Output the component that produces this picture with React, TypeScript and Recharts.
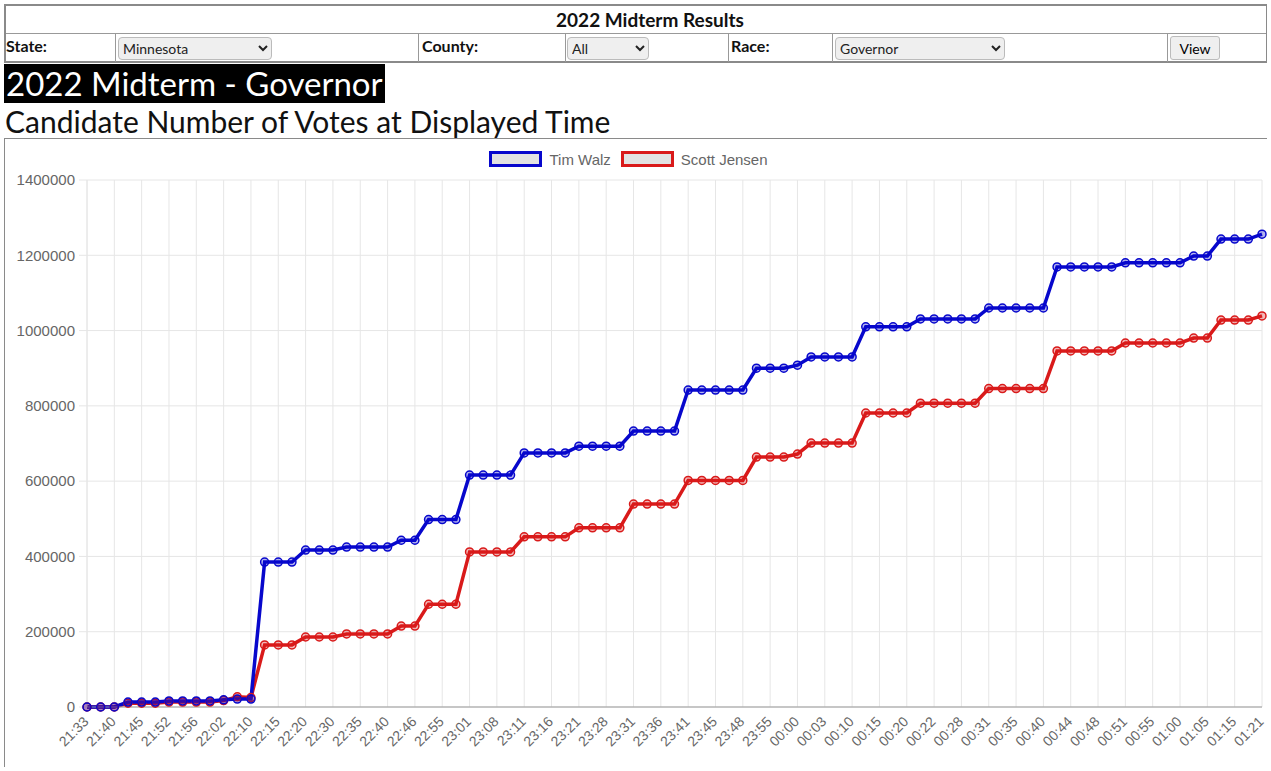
import { CartesianGrid, Legend, Line, LineChart, XAxis, YAxis } from "recharts";

// time of each vote snapshot (only every other one is labelled on the axis)
const times = [
  "21:33", "21:36", "21:40", "21:42", "21:45", "21:49", "21:52", "21:54", "21:56", "21:59",
  "22:02", "22:06", "22:10", "22:12", "22:15", "22:17", "22:20", "22:25", "22:30", "22:33",
  "22:35", "22:38", "22:40", "22:43", "22:46", "22:50", "22:55", "22:58", "23:01", "23:05",
  "23:08", "23:10", "23:11", "23:13", "23:16", "23:18", "23:21", "23:25", "23:28", "23:30",
  "23:31", "23:33", "23:36", "23:38", "23:41", "23:43", "23:45", "23:46", "23:48", "23:51",
  "23:55", "23:58", "00:00", "00:01", "00:03", "00:06", "00:10", "00:12", "00:15", "00:18",
  "00:20", "00:21", "00:22", "00:25", "00:28", "00:30", "00:31", "00:33", "00:35", "00:38",
  "00:40", "00:42", "00:44", "00:46", "00:48", "00:50", "00:51", "00:53", "00:55", "00:58",
  "01:00", "01:03", "01:05", "01:10", "01:15", "01:18", "01:21",
];

const timWalz = [
  0, 0, 0, 13000, 13000, 13000, 16000, 16000, 16000, 16000,
  19000, 21000, 21000, 385000, 385000, 385000, 417000, 417000, 417000, 425000,
  425000, 425000, 425000, 443000, 443000, 498000, 498000, 498000, 616000, 616000,
  616000, 616000, 675000, 675000, 675000, 675000, 693000, 693000, 693000, 693000,
  733000, 733000, 733000, 733000, 842000, 842000, 842000, 842000, 842000, 900000,
  900000, 900000, 908000, 930000, 930000, 930000, 930000, 1010000, 1010000, 1010000,
  1010000, 1031000, 1031000, 1031000, 1031000, 1031000, 1060000, 1060000, 1060000, 1060000,
  1060000, 1169000, 1169000, 1169000, 1169000, 1169000, 1180000, 1180000, 1180000, 1180000,
  1180000, 1198000, 1198000, 1243000, 1243000, 1243000, 1256000,
];

const scottJensen = [
  0, 0, 0, 10000, 10000, 10000, 13000, 13000, 13000, 13000,
  17000, 27000, 25000, 165000, 165000, 165000, 186000, 186000, 186000, 194000,
  194000, 194000, 194000, 215000, 215000, 273000, 273000, 273000, 412000, 412000,
  412000, 412000, 452000, 452000, 452000, 452000, 476000, 476000, 476000, 476000,
  539000, 539000, 539000, 539000, 602000, 602000, 602000, 602000, 602000, 664000,
  664000, 664000, 672000, 701000, 701000, 701000, 701000, 781000, 781000, 781000,
  781000, 807000, 807000, 807000, 807000, 807000, 846000, 846000, 846000, 846000,
  846000, 946000, 946000, 946000, 946000, 946000, 967000, 967000, 967000, 967000,
  967000, 980000, 980000, 1028000, 1028000, 1028000, 1039000,
];

const yTicks = [0, 200000, 400000, 600000, 800000, 1000000, 1200000, 1400000];

const series = [
  { key: "walz", name: "Tim Walz", color: "#0707cc" },
  { key: "jensen", name: "Scott Jensen", color: "#d91a1a" },
];

const data = times.map((t, i) => ({ t, walz: timWalz[i], jensen: scottJensen[i] }));

// only the labelled ticks get a vertical grid line
const labelled = times.filter((_, i) => i % 2 === 0);

const AXIS_FONT = "Arial, 'Liberation Sans', sans-serif";
const HEAD_FONT = "Lato, 'Noto Sans', sans-serif";

function TimeTick({ x, y, payload }: any) {
  const ax = x - 1;
  const ay = y + 12;
  return (
    <text
      x={ax}
      y={ay}
      transform={`rotate(-45 ${ax} ${ay})`}
      textAnchor="end"
      dominantBaseline="central"
      fill="#666"
      fontSize={14}
      fontFamily={AXIS_FONT}
    >
      {payload.value}
    </text>
  );
}

function gridX({ xAxis, offset }: any) {
  if (xAxis && typeof xAxis.scale === "function") {
    return labelled.map((t) => xAxis.scale(t));
  }
  const step = offset.width / (times.length - 1);
  return times.map((_, i) => offset.left + i * step).filter((_, i) => i % 2 === 0);
}

function ChartLegend() {
  return (
    <div
      style={{
        height: 33,
        boxSizing: "border-box",
        paddingTop: 4,
        display: "flex",
        justifyContent: "center",
        fontFamily: AXIS_FONT,
        fontSize: 15,
        color: "#666",
      }}
    >
      {series.map((s) => (
        <div key={s.key} style={{ display: "flex", alignItems: "center", marginRight: 10, height: 16 }}>
          <span
            style={{
              display: "inline-block",
              width: 53,
              height: 16,
              boxSizing: "border-box",
              border: `3px solid ${s.color}`,
              background: "#e2e2e2",
              marginRight: 7,
            }}
          />
          <span>{s.name}</span>
        </div>
      ))}
    </div>
  );
}

const selectStyle = {
  position: "absolute" as const,
  top: 3,
  height: 23,
  fontFamily: HEAD_FONT,
  fontSize: 14,
  background: "#efefef",
  border: "1px solid #bbb",
  borderRadius: 4,
  color: "#222",
};

const labelStyle = {
  position: "absolute" as const,
  top: 2,
  fontFamily: HEAD_FONT,
  fontWeight: 700,
  fontSize: 16,
  color: "#111",
};

export default function App() {
  // column edges of the form row, in page pixels
  const edges = [115, 418, 565, 728, 832, 1167];
  return (
    <div style={{ position: "relative", width: 1264, height: 763 }}>
      <style>{"body{margin:4px;overflow:hidden}"}</style>

      <div
        style={{
          position: "absolute",
          left: 0,
          top: 0,
          width: 1264,
          height: 59,
          boxSizing: "border-box",
          border: "2px solid #8a8a8a",
          background: "#fff",
        }}
      >
        <div
          style={{
            height: 27,
            borderBottom: "1px solid #999",
            textAlign: "center",
            paddingLeft: 28,
            fontFamily: HEAD_FONT,
            fontWeight: 700,
            fontSize: 19,
            lineHeight: "27px",
            color: "#111",
          }}
        >
          2022 Midterm Results
        </div>
        <div style={{ position: "relative", height: 28 }}>
          {edges.map((e) => (
            <div key={e} style={{ position: "absolute", left: e - 6, top: 0, width: 1, height: 28, background: "#999" }} />
          ))}
          <div style={{ ...labelStyle, left: 0 }}>State:</div>
          <select defaultValue="Minnesota" style={{ ...selectStyle, left: 112, width: 154 }}>
            <option>Minnesota</option>
          </select>
          <div style={{ ...labelStyle, left: 416 }}>County:</div>
          <select defaultValue="All" style={{ ...selectStyle, left: 561, width: 82 }}>
            <option>All</option>
          </select>
          <div style={{ ...labelStyle, left: 725 }}>Race:</div>
          <select defaultValue="Governor" style={{ ...selectStyle, left: 829, width: 170 }}>
            <option>Governor</option>
          </select>
          <button
            style={{
              position: "absolute",
              left: 1164,
              top: 2,
              width: 50,
              height: 24,
              fontFamily: HEAD_FONT,
              fontSize: 14,
              background: "#efefef",
              border: "1px solid #bbb",
              borderRadius: 3,
              padding: 0,
            }}
          >
            View
          </button>
        </div>
      </div>

      <div
        style={{
          position: "absolute",
          left: 0,
          top: 60,
          width: 381,
          height: 39,
          background: "#000",
          color: "#fff",
          fontFamily: HEAD_FONT,
          fontSize: 33,
          lineHeight: "39px",
          paddingLeft: 2,
          boxSizing: "border-box",
          whiteSpace: "nowrap",
        }}
      >
        2022 Midterm - Governor
      </div>

      <div
        style={{
          position: "absolute",
          left: 1,
          top: 100,
          fontFamily: HEAD_FONT,
          fontSize: 30,
          lineHeight: "34px",
          color: "#111",
          whiteSpace: "nowrap",
        }}
      >
        Candidate Number of Votes at Displayed Time
      </div>

      <div
        style={{
          position: "absolute",
          left: 0,
          top: 134,
          width: 1264,
          height: 660,
          boxSizing: "border-box",
          border: "1px solid #8a8a8a",
        }}
      >
        <LineChart width={1262} height={640} data={data} margin={{ top: 8, right: 5, left: 0, bottom: 8 }}>
          <Legend verticalAlign="top" content={() => <ChartLegend />} />
          <CartesianGrid stroke="#e6e6e6" strokeWidth={1} verticalCoordinatesGenerator={gridX} />
          <XAxis
            dataKey="t"
            interval={1}
            height={64}
            tickSize={0}
            tickMargin={0}
            tickLine={false}
            axisLine={{ stroke: "#999" }}
            tick={<TimeTick />}
          />
          <YAxis
            width={82}
            domain={[0, 1400000]}
            ticks={yTicks}
            interval={0}
            tickSize={8}
            tickMargin={4}
            tickLine={{ stroke: "#e6e6e6" }}
            axisLine={{ stroke: "#e6e6e6" }}
            tick={{ fill: "#666", fontSize: 15, fontFamily: AXIS_FONT }}
          />
          <Line
            dataKey="jensen"
            name="Scott Jensen"
            type="linear"
            stroke="#d91a1a"
            strokeWidth={3.5}
            dot={{ r: 4, stroke: "#d91a1a", strokeWidth: 1.5, fill: "rgba(217,26,26,0.3)" }}
            isAnimationActive={false}
          />
          <Line
            dataKey="walz"
            name="Tim Walz"
            type="linear"
            stroke="#0707cc"
            strokeWidth={3.5}
            dot={{ r: 4, stroke: "#0707cc", strokeWidth: 1.5, fill: "rgba(7,7,204,0.3)" }}
            isAnimationActive={false}
          />
        </LineChart>
      </div>
    </div>
  );
}
